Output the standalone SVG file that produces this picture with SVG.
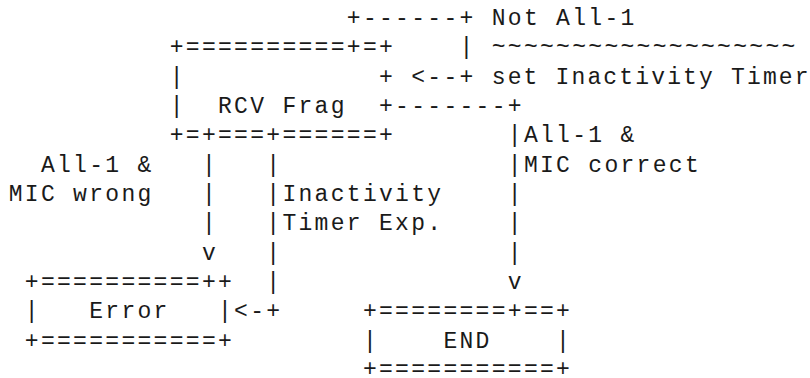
<svg xmlns="http://www.w3.org/2000/svg" width="810" height="378" viewBox="0 0 810 378">
<style>
text{font-family:"Liberation Mono","DejaVu Sans Mono",monospace;font-size:23px;letter-spacing:2.3px;fill:#1a1a1a;white-space:pre}
</style>
<rect width="810" height="378" fill="#ffffff"/>
<g id="rcv-frag">
<text x="169.7" y="54.3">+==========+=+</text>
<text x="169.7" y="83.7">|</text>
<text x="379" y="83.7">+</text>
<text x="169.7" y="113">|</text>
<text x="218" y="113">RCV Frag</text>
<text x="379" y="113">+</text>
<text x="169.7" y="142.3">+=+===+======+</text>
</g>
<g id="error">
<text x="24.8" y="289">+==========++</text>
<text x="24.8" y="318.3">|</text>
<text x="89.2" y="318.3">Error</text>
<text x="218" y="318.3">|</text>
<text x="24.8" y="347.7">+===========+</text>
</g>
<g id="end">
<text x="362.9" y="318.3">+========+==+</text>
<text x="362.9" y="347.7">|</text>
<text x="443.4" y="347.7">END</text>
<text x="556.1" y="347.7">|</text>
<text x="362.9" y="376">+===========+</text>
</g>
<g id="connectors">
<text x="346.8" y="25">+------+</text>
<text x="459.5" y="54.3">|</text>
<text x="411.2" y="83.7">&lt;--+</text>
<text x="395.1" y="113">-------+</text>
<text x="507.8" y="142.3">|</text>
<text x="201.9" y="171.7">|</text>
<text x="266.3" y="171.7">|</text>
<text x="507.8" y="171.7">|</text>
<text x="201.9" y="201">|</text>
<text x="266.3" y="201">|</text>
<text x="507.8" y="201">|</text>
<text x="201.9" y="230.3">|</text>
<text x="266.3" y="230.3">|</text>
<text x="507.8" y="230.3">|</text>
<text x="201.9" y="259.7">v</text>
<text x="266.3" y="259.7">|</text>
<text x="507.8" y="259.7">|</text>
<text x="266.3" y="289">|</text>
<text x="507.8" y="289">v</text>
<text x="234.1" y="318.3">&lt;-+</text>
</g>
<g id="labels">
<text x="491.7" y="25">Not All-1</text>
<text x="491.7" y="54.3">~~~~~~~~~~~~~~~~~~~</text>
<text x="491.7" y="83.7" style="letter-spacing:2.15px">set Inactivity Timer</text>
<text x="523.9" y="142.3">All-1 &amp;</text>
<text x="40.9" y="171.7">All-1 &amp;</text>
<text x="523.9" y="171.7">MIC correct</text>
<text x="8.7" y="201">MIC wrong</text>
<text x="282.4" y="201">Inactivity</text>
<text x="282.4" y="230.3">Timer Exp.</text>
</g>
</svg>
